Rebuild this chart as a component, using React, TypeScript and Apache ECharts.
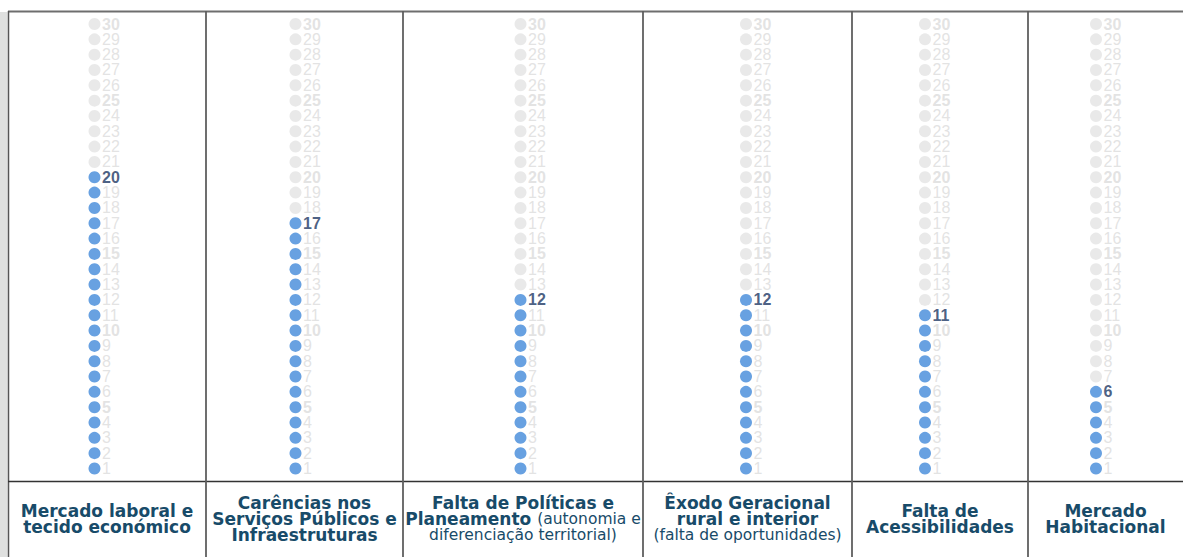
import React, { useEffect, useRef } from "react";
import * as echarts from "echarts";

// ---- data ----
const categories: string[] = [
  "Mercado laboral e\ntecido económico",
  "Carências nos\nServiços Públicos e\nInfraestruturas",
  "Falta de Políticas e\nPlaneamento (autonomia e\ndiferenciação territorial)",
  "Êxodo Geracional\nrural e interior\n(falta de oportunidades)",
  "Falta de\nAcessibilidades",
  "Mercado\nHabitacional",
];
const values: number[] = [20, 17, 12, 12, 11, 6];
const scaleTicks: number[] = [
  1, 2, 3, 4, 5, 6, 7, 8, 9, 10, 11, 12, 13, 14, 15,
  16, 17, 18, 19, 20, 21, 22, 23, 24, 25, 26, 27, 28, 29, 30,
];

// ---- layout / style ----
const W = 1183;
const H = 557;
const cellEdges = [8, 206, 403, 643, 852, 1028, 1183];
const dotCenters = [94.5, 295.5, 520.5, 746, 925, 1096];
const plotTop = 24;
const plotHeight = 444.5;
const dividerY = 481.5;
const BLUE = "#4289da";
const GRAY_DOT = "#e3e3e3";
const GRAY_TEXT = "#dcdcdc";
const NAVY = "#1d3763";
const TEAL = "#184b69";
const NUM_FONT = "'Liberation Sans', Arial, sans-serif";
const CAT_FONT = "'DejaVu Sans', sans-serif";

function richLabel(text: string): string {
  let inParen = false;
  return text
    .split("\n")
    .map((line) => {
      if (inParen) return `{r|${line}}`;
      const idx = line.indexOf("(");
      if (idx < 0) return `{b|${line}}`;
      inParen = true;
      const head = line.slice(0, idx);
      const tail = line.slice(idx);
      return (head.trim() ? `{b|${head}}` : "") + `{r|${tail}}`;
    })
    .join("\n");
}

export default function App() {
  const ref = useRef<HTMLDivElement>(null);

  useEffect(() => {
    if (!ref.current) return;
    const chart = echarts.init(ref.current, undefined, { renderer: "svg" });

    const grids: any[] = [];
    const xAxes: any[] = [];
    const yAxes: any[] = [];
    const series: any[] = [];

    categories.forEach((cat, i) => {
      const cellL = cellEdges[i];
      const cellW = cellEdges[i + 1] - cellEdges[i];
      // label grid (full cell)
      grids.push({
        left: cellL,
        width: cellW,
        top: plotTop,
        height: plotHeight,
        containLabel: false,
        outerBoundsMode: "none",
      });
      xAxes.push({
        gridIndex: 2 * i,
        type: "category",
        data: [cat],
        axisLine: { show: false },
        axisTick: { show: false },
        splitLine: { show: false },
        axisLabel: {
          interval: 0,
          margin: 50.5,
          verticalAlign: "middle",
          align: "center",
          formatter: (v: string) => richLabel(v),
          rich: {
            b: {
              fontFamily: CAT_FONT,
              fontWeight: "bold",
              fontSize: 17,
              color: TEAL,
              lineHeight: 16,
            },
            r: {
              fontFamily: CAT_FONT,
              fontWeight: "normal",
              fontSize: 15.5,
              color: TEAL,
              lineHeight: 16,
            },
          },
        },
      });
      yAxes.push({ gridIndex: 2 * i, type: "value", min: 1, max: 30, show: false });

      // dot grid (narrow, centered on the dot column)
      grids.push({
        left: dotCenters[i] - 10,
        width: 20,
        top: plotTop,
        height: plotHeight,
        containLabel: false,
        outerBoundsMode: "none",
      });
      xAxes.push({ gridIndex: 2 * i + 1, type: "category", data: [cat], show: false });
      yAxes.push({ gridIndex: 2 * i + 1, type: "value", min: 1, max: 30, show: false });

      const v = values[i];
      series.push({
        type: "scatter",
        xAxisIndex: 2 * i + 1,
        yAxisIndex: 2 * i + 1,
        symbol: "circle",
        symbolSize: 12,
        silent: true,
        label: {
          show: true,
          position: "right",
          distance: 1.5,
          fontFamily: NUM_FONT,
          fontSize: 16,
          color: GRAY_TEXT,
          formatter: (p: any) => String(p.value[1]),
        },
        data: scaleTicks.map((k) => ({
          value: [cat, k],
          itemStyle: { color: k <= v ? BLUE : GRAY_DOT },
          label:
            k === v
              ? { color: NAVY, fontWeight: "bold", fontSize: 16 }
              : k % 5 === 0
              ? { fontWeight: "bold" }
              : {},
        })),
      });
    });

    const lineStyle = (stroke: string, lineWidth: number) => ({ stroke, lineWidth });
    const graphics: any[] = [
      { type: "rect", shape: { x: 0, y: 12, width: 7.5, height: H - 12 }, style: { fill: "#dfe0df" } },
      { type: "line", shape: { x1: 8, y1: 11.5, x2: W, y2: 11.5 }, style: lineStyle("#6e6e6e", 2) },
      { type: "line", shape: { x1: 8.5, y1: 11, x2: 8.5, y2: H }, style: lineStyle("#555555", 1.5) },
      { type: "line", shape: { x1: 8, y1: dividerY, x2: W, y2: dividerY }, style: lineStyle("#333333", 1.5) },
    ];
    cellEdges.slice(1, 6).forEach((x) => {
      graphics.push({
        type: "line",
        shape: { x1: x, y1: 11, x2: x, y2: H },
        style: lineStyle("#5f5f5f", 1.8),
      });
    });

    chart.setOption({
      animation: false,
      backgroundColor: "#ffffff",
      grid: grids,
      xAxis: xAxes,
      yAxis: yAxes,
      series,
      graphic: graphics,
    });

    return () => chart.dispose();
  }, []);

  return (
    <div
      ref={ref}
      style={{ position: "fixed", left: 0, top: 0, width: W, height: H }}
    />
  );
}
